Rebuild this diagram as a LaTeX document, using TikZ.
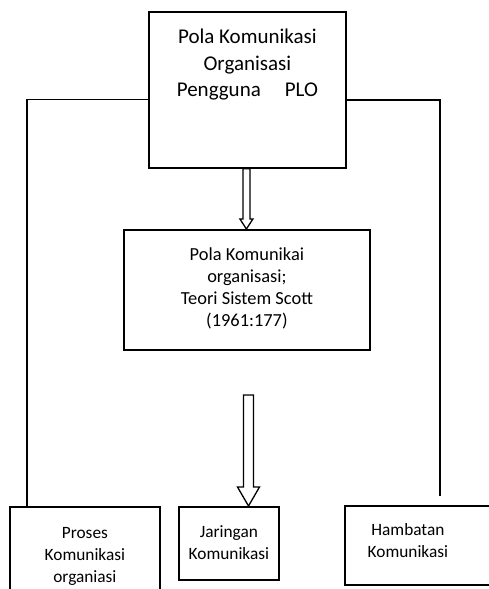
\documentclass[tikz,border=0pt]{standalone}
\usepackage{fontspec}
\setmainfont{Carlito}
\usetikzlibrary{calc}
\newcommand\blockarrow[5]{%
  \draw[arrowline] ($(#1)+(-#3,0)$) -- ($(#2)+(-#3,-#5)$) -- ($(#2)+(-#4,-#5)$) -- (#2)
    -- ($(#2)+(#4,-#5)$) -- ($(#2)+(#3,-#5)$) -- ($(#1)+(#3,0)$) -- cycle;}
\begin{document}
\begin{tikzpicture}[x=1pt,y=-1pt,
  boxnode/.style={draw,line width=1.8pt,inner sep=0pt,anchor=north west},
  link/.style={line width=1.8pt},
  arrowline/.style={line width=1.3pt,line join=miter}]
\useasboundingbox (0,0) rectangle (489,589);
% top box
\node[boxnode] (top) at (148,11) {\fontsize{21}{26.5}\selectfont
  \parbox[c][156pt][t]{197pt}{\centering\vspace*{13.5pt}%
  \strut Pola Komunikasi\\ \strut Organisasi\\ \strut Pengguna\hspace{24pt}PLO}};
% middle box
\node[boxnode] (mid) at (123,229) {\fontsize{18.4}{22}\selectfont
  \parbox[c][120pt][t]{246pt}{\centering\vspace*{15.6pt}%
  \strut Pola Komunikai\\ \strut organisasi;\\ \strut Teori Sistem Scott\\ \strut (1961:177)}};
% bottom boxes
\node[boxnode] (lbox) at (9,506) {\fontsize{17.3}{22}\selectfont
  \parbox[c][100pt][t]{150pt}{\centering\vspace*{16.6pt}%
  \strut Proses\\ \strut Komunikasi\\ \strut organiasi}};
\node[boxnode] (jar) at (178,506) {\fontsize{17.3}{22}\selectfont
  \parbox[c][73pt][t]{100pt}{\centering\vspace*{15.6pt}%
  \strut Jaringan\\ \strut Komunikasi}};
\node[boxnode] (rbox) at (344,505) {\fontsize{17.3}{22}\selectfont
  \makebox[200pt][l]{\parbox[c][79pt][t]{126pt}{\centering\vspace*{14.6pt}%
  \strut Hambatan\\ \strut Komunikasi}}};
% connectors
\coordinate (tl) at ($(top.north west)+(0,88.5)$);
\coordinate (lend) at ($(lbox.north west)+(18,0)$);
\draw[link] (tl) -| (lend);
\coordinate (tr) at ($(top.north east)+(0,89)$);
\coordinate (rend) at ($(rbox.north west)+(96,-9)$);
\draw[link] (tr) -| (rend);
% block arrows
\coordinate (a1top) at ($(top.south)+(-1,0)$);
\coordinate (a1tip) at (a1top |- mid.north);
\blockarrow{a1top}{a1tip}{3.5}{6.5}{10}
\coordinate (a2top) at (248.5,395);
\coordinate (a2tip) at (a2top |- jar.north);
\blockarrow{a2top}{a2tip}{5}{11}{19}
\end{tikzpicture}
\end{document}
